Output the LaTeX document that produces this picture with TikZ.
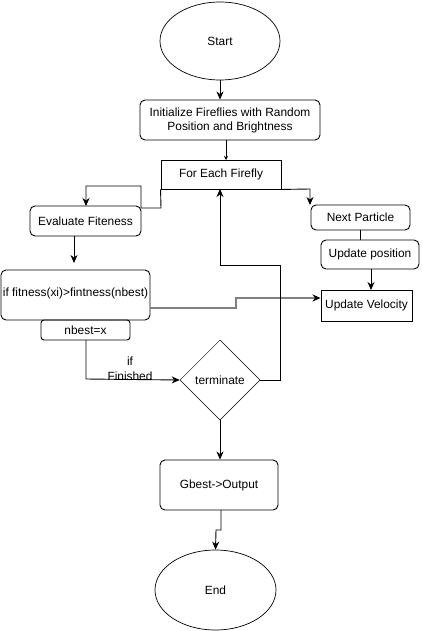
\documentclass[tikz,border=0pt]{standalone}
\usepackage{fontspec}
\setmainfont{Liberation Sans}
\usetikzlibrary{shapes.geometric,arrows.meta}
\begin{document}
\begin{tikzpicture}[x=1pt,y=-1pt,
  every node/.style={font=\fontsize{11.9}{14}\selectfont, inner sep=0pt, align=center},
  box/.style={draw, line width=0.9pt, rounded corners=5pt},
  sbox/.style={draw, line width=0.9pt},
  ell/.style={draw, ellipse, line width=0.7pt},
  dia/.style={draw, diamond, line width=0.5pt},
  conn/.style={line width=0.9pt, -{Stealth[length=8pt,width=7pt,inset=2.5pt]}},
  plain/.style={line width=0.9pt},
  gconn/.style={line width=1.3pt, draw=gray, -{Stealth[length=8pt,width=7pt,inset=2.5pt,color=black,fill=black]}}
]
\useasboundingbox (0,0) rectangle (421,631);
\node[ell, minimum width=120pt, minimum height=78pt] (start) at (220,41) {Start};
\node[box, minimum width=180pt, minimum height=40pt] (init) at (230,120) {Initialize Fireflies with Random\\Position and Brightness};
\node[sbox, minimum width=120pt, minimum height=29pt] (each) at (221,174.5) {For Each Firefly};
\node[box, minimum width=111pt, minimum height=30pt] (eval) at (85.5,221) {Evaluate Fiteness};
\node[box, minimum width=149pt, minimum height=50pt] (iffit) at (75.5,295) {};
\node at (75.5,293) {if fitness(xi)>fintness(nbest)};
\node[box, rounded corners=3pt, minimum width=89pt, minimum height=20pt] (nbest) at (85.5,330) {nbest=x};
\node[box, minimum width=99pt, minimum height=25pt] (next) at (360.5,217.5) {Next Particle};
\node[box, minimum width=98pt, minimum height=29pt] (upos) at (370,254.5) {Update position};
\node[sbox, minimum width=91pt, minimum height=31pt] (uvel) at (366.5,305.5) {Update Velocity};
\node[dia, minimum width=80pt, minimum height=80pt, aspect=1] (term) at (220,380) {};
\node at (220,380) {terminate};
\node[box, minimum width=118pt, minimum height=50pt] (gbest) at (219,485) {Gbest->Output};
\node[ell, minimum width=121pt, minimum height=80pt] (end) at (215.5,590) {End};

\coordinate (c1) at (226,140);
\coordinate (c2) at (226,160);
\draw[conn] (start.south) -- (init.north -| start.south);
\draw[line width=0.9pt, -{Stealth[length=4pt,width=4pt]}] (c1) -- (c2);
\draw[conn] (each.south west) -- (161,208) -- (141,208) -- (141,186) -- (86,186) -- (86,206);
\draw[conn] (each.south east) -- (310,189) -- (310,205);
\draw[conn, shorten >=7pt] (74,236) -- (74,270);
\draw[gconn] (150,308) -- (236,308) -- (236,298) -- (uvel.west |- 0,298);
\draw[conn] (86,340) -- (86,379) -- (term.west);
\node at (130,361) {if};
\node at (130,376) {Finished};
\draw[conn] (term.east) -- (280,380) -- (280,265) -- (220,265) -- (220,189);
\draw[conn] (term.south) -- (gbest.north -| term.south);
\draw[conn] (221,510) -- (221,530) -- (216,530) -- (end.north);
\draw[plain] (360,230) -- (360,240);
\draw[conn] (371,269) -- (371,290);
\end{tikzpicture}
\end{document}
